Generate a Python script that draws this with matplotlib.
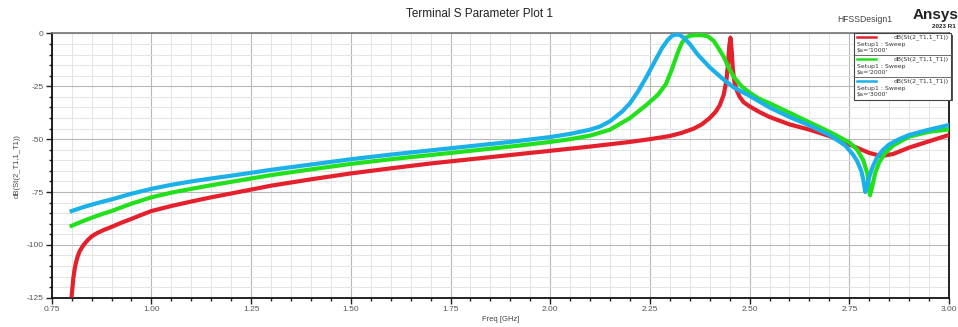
import matplotlib
matplotlib.use('Agg')
import matplotlib.pyplot as plt
from matplotlib.patches import Rectangle
from matplotlib.ticker import MultipleLocator

plt.rcParams['font.family'] = ['Liberation Sans', 'DejaVu Sans']
plt.rcParams['axes.unicode_minus'] = False

# ── data ─────────────────────────────────────────────────────────────────
freq_red = [0.800, 0.802, 0.804, 0.807, 0.810, 0.815, 0.820, 0.830, 0.840, 0.850,
            0.865, 0.880, 0.900, 0.925, 0.950, 0.975, 1.000, 1.050, 1.100, 1.150,
            1.200, 1.300, 1.400, 1.500, 1.600, 1.700, 1.800, 1.900, 2.000, 2.100,
            2.200, 2.250, 2.300, 2.330, 2.360, 2.380, 2.400, 2.415, 2.425, 2.435,
            2.442, 2.446, 2.449, 2.452, 2.455, 2.458, 2.462, 2.468, 2.475, 2.485,
            2.500, 2.525, 2.550, 2.600, 2.650, 2.700, 2.750, 2.800, 2.830, 2.860,
            2.900, 2.950, 3.000]
s_red = [-124, -120, -116, -112, -109, -105.5, -103, -100, -97.8, -96,
         -94.3, -93, -91.5, -89.5, -87.7, -85.8, -84, -81.6, -79.5, -77.5,
         -75.7, -72, -69, -66.2, -63.8, -61.5, -59.5, -57.5, -55.5, -53.5,
         -51.3, -50, -48.5, -47, -45, -43, -40, -37, -34, -29,
         -22, -14, -6, -2, -8, -17, -23, -27, -30, -32.5,
         -34.5, -37.2, -39.5, -43, -45.5, -48.5, -52.5, -56.5, -58, -57,
         -54, -51, -48]

freq_green = [0.800, 0.825, 0.850, 0.875, 0.900, 0.950, 1.000, 1.050, 1.100, 1.150,
              1.200, 1.300, 1.400, 1.500, 1.600, 1.700, 1.800, 1.900, 2.000, 2.050,
              2.100, 2.150, 2.200, 2.240, 2.270, 2.290, 2.305, 2.320, 2.330, 2.340,
              2.350, 2.365, 2.380, 2.395, 2.410, 2.422, 2.435, 2.447, 2.460, 2.480,
              2.500, 2.525, 2.550, 2.600, 2.650, 2.700, 2.750, 2.770, 2.785, 2.795,
              2.802, 2.808, 2.815, 2.825, 2.840, 2.860, 2.900, 2.950, 3.000]
s_green = [-91, -89, -87.2, -85.5, -84, -80.5, -77.5, -75.3, -73.5, -71.8,
           -70.2, -67, -64.3, -61.7, -59.5, -57.5, -55.5, -53.5, -51.3, -50,
           -48.3, -45.5, -40, -34, -29, -24, -17, -9, -4.5, -2,
           -1.1, -0.8, -0.8, -1.3, -3.5, -7, -11, -16, -20.5, -25,
           -28, -31, -33, -37.5, -42, -46.5, -51.5, -55, -60, -66,
           -76.5, -72, -66, -61, -56.5, -53, -48.8, -46.5, -45.4]

freq_blue = [0.800, 0.825, 0.850, 0.875, 0.900, 0.950, 1.000, 1.050, 1.100, 1.150,
             1.200, 1.300, 1.400, 1.500, 1.600, 1.700, 1.800, 1.900, 2.000, 2.050,
             2.100, 2.125, 2.150, 2.180, 2.200, 2.220, 2.240, 2.260, 2.280, 2.295,
             2.305, 2.315, 2.325, 2.335, 2.350, 2.370, 2.400, 2.430, 2.460, 2.500,
             2.550, 2.600, 2.650, 2.700, 2.740, 2.760, 2.770, 2.780, 2.785, 2.790,
             2.795, 2.800, 2.805, 2.810, 2.820, 2.835, 2.850, 2.875, 2.900, 2.950,
             3.000]
s_blue = [-84, -82.4, -81, -79.7, -78.5, -75.8, -73.5, -71.6, -70, -68.6,
          -67.3, -64.5, -62, -59.5, -57.3, -55.3, -53.3, -51.3, -49, -47.5,
          -45.5, -44, -41.5, -37, -33, -27.5, -21, -14, -7, -3,
          -1.2, -0.5, -0.7, -2, -5, -10, -16, -21, -25.5, -29.5,
          -35, -39.5, -43.5, -48, -53, -57.5, -60.5, -65, -69, -75,
          -72, -68, -65, -62.5, -58.5, -55, -52.5, -50, -48, -45.5,
          -43.3]

series = [
    (freq_red, s_red, '#e3202b', "$s='1000'"),
    (freq_green, s_green, '#22e01c', "$s='2000'"),
    (freq_blue, s_blue, '#1ab0ea', "$s='3000'"),
]
trace_name = 'dB(St(2_T1,1_T1))'

fig = plt.figure(figsize=(9.58, 3.27), dpi=100)
ax = fig.add_axes([0.054, 0.0896, 0.9366, 0.808])

for fx, fy, col, _ in series:
    ax.plot(fx, fy, color=col, lw=3.0, solid_joinstyle='round', zorder=3)

ax.set_xlim(0.75, 3.0)
ax.set_ylim(-125, 0)
ax.xaxis.set_major_locator(MultipleLocator(0.25))
ax.xaxis.set_minor_locator(MultipleLocator(0.05))
ax.yaxis.set_major_locator(MultipleLocator(25))
ax.yaxis.set_minor_locator(MultipleLocator(5))
ax.set_xticks(ax.get_xticks())
ax.set_xticklabels([f'{v:.2f}' for v in ax.get_xticks()])
ax.set_xlim(0.75, 3.0)
ax.grid(which='major', color='#b8b8b8', lw=0.8)
ax.grid(which='minor', color='#e4e4e4', lw=0.7)
ax.set_axisbelow(True)

ax.tick_params(which='major', direction='out', length=4, width=1.0,
               labelsize=6, labelcolor='#555555', color='#222222', pad=2)
ax.tick_params(which='minor', direction='out', length=2.5, width=1.0,
               color='#222222')
for side in ['left', 'bottom', 'right']:
    ax.spines[side].set_color('#111111')
    ax.spines[side].set_linewidth(1.3)
ax.spines['top'].set_color('#777777')
ax.spines['top'].set_linewidth(1.2)

ax.set_xlabel('Freq [GHz]', fontsize=5.5, color='#444444', labelpad=2)
ax.set_ylabel(trace_name, fontsize=5.5, color='#444444', labelpad=4)

# ── titles / branding ─────────────────────────────────────────────────────
fig.text(0.501, 0.957, 'Terminal S Parameter Plot 1', ha='center', va='center',
         fontsize=8.5, color='#222222')
fig.text(0.903, 0.94, 'HFSSDesign1', ha='center', va='center',
         fontsize=6.2, color='#444444')
fig.text(0.977, 0.955, 'Ansys', ha='center', va='center',
         fontsize=11, fontweight='bold', color='#222222')
fig.text(0.985, 0.918, '2023 R1', ha='center', va='center',
         fontsize=4.5, fontweight='bold', color='#222222')

# ── legend box ────────────────────────────────────────────────────────────
lg = fig.add_axes([0.8914, 0.691, 0.1033, 0.208])
lg.set_xlim(0, 99)
lg.set_ylim(68, 0)
lg.axis('off')
lg.add_patch(Rectangle((1.5, 1.5), 97.5, 66.5, fc='#555555', ec='none',
                       zorder=0, clip_on=False))
lg.add_patch(Rectangle((0, 0), 97.5, 66.5, fc='white', ec='#444444', lw=0.8,
                       zorder=1, clip_on=False))
for i, (_, _, col, lab) in enumerate(series):
    y0 = i * 22.2
    if i > 0:
        lg.plot([0, 97.5], [y0, y0], color='#555555', lw=0.6, zorder=2)
    lg.plot([3, 22], [y0 + 4, y0 + 4], color=col, lw=1.8, zorder=3)
    lg.text(95, y0 + 4.2, trace_name, ha='right', va='center', fontsize=4.4,
            family='DejaVu Sans', color='#333333', zorder=3)
    lg.text(3, y0 + 11, 'Setup1 : Sweep', ha='left', va='center',
            fontsize=4.4, family='DejaVu Sans', color='#333333', zorder=3)
    lg.text(3, y0 + 17.2, lab, ha='left', va='center', fontsize=4.4,
            family='DejaVu Sans', color='#333333', zorder=3)

fig.savefig('out.png', dpi=100, facecolor='white')
